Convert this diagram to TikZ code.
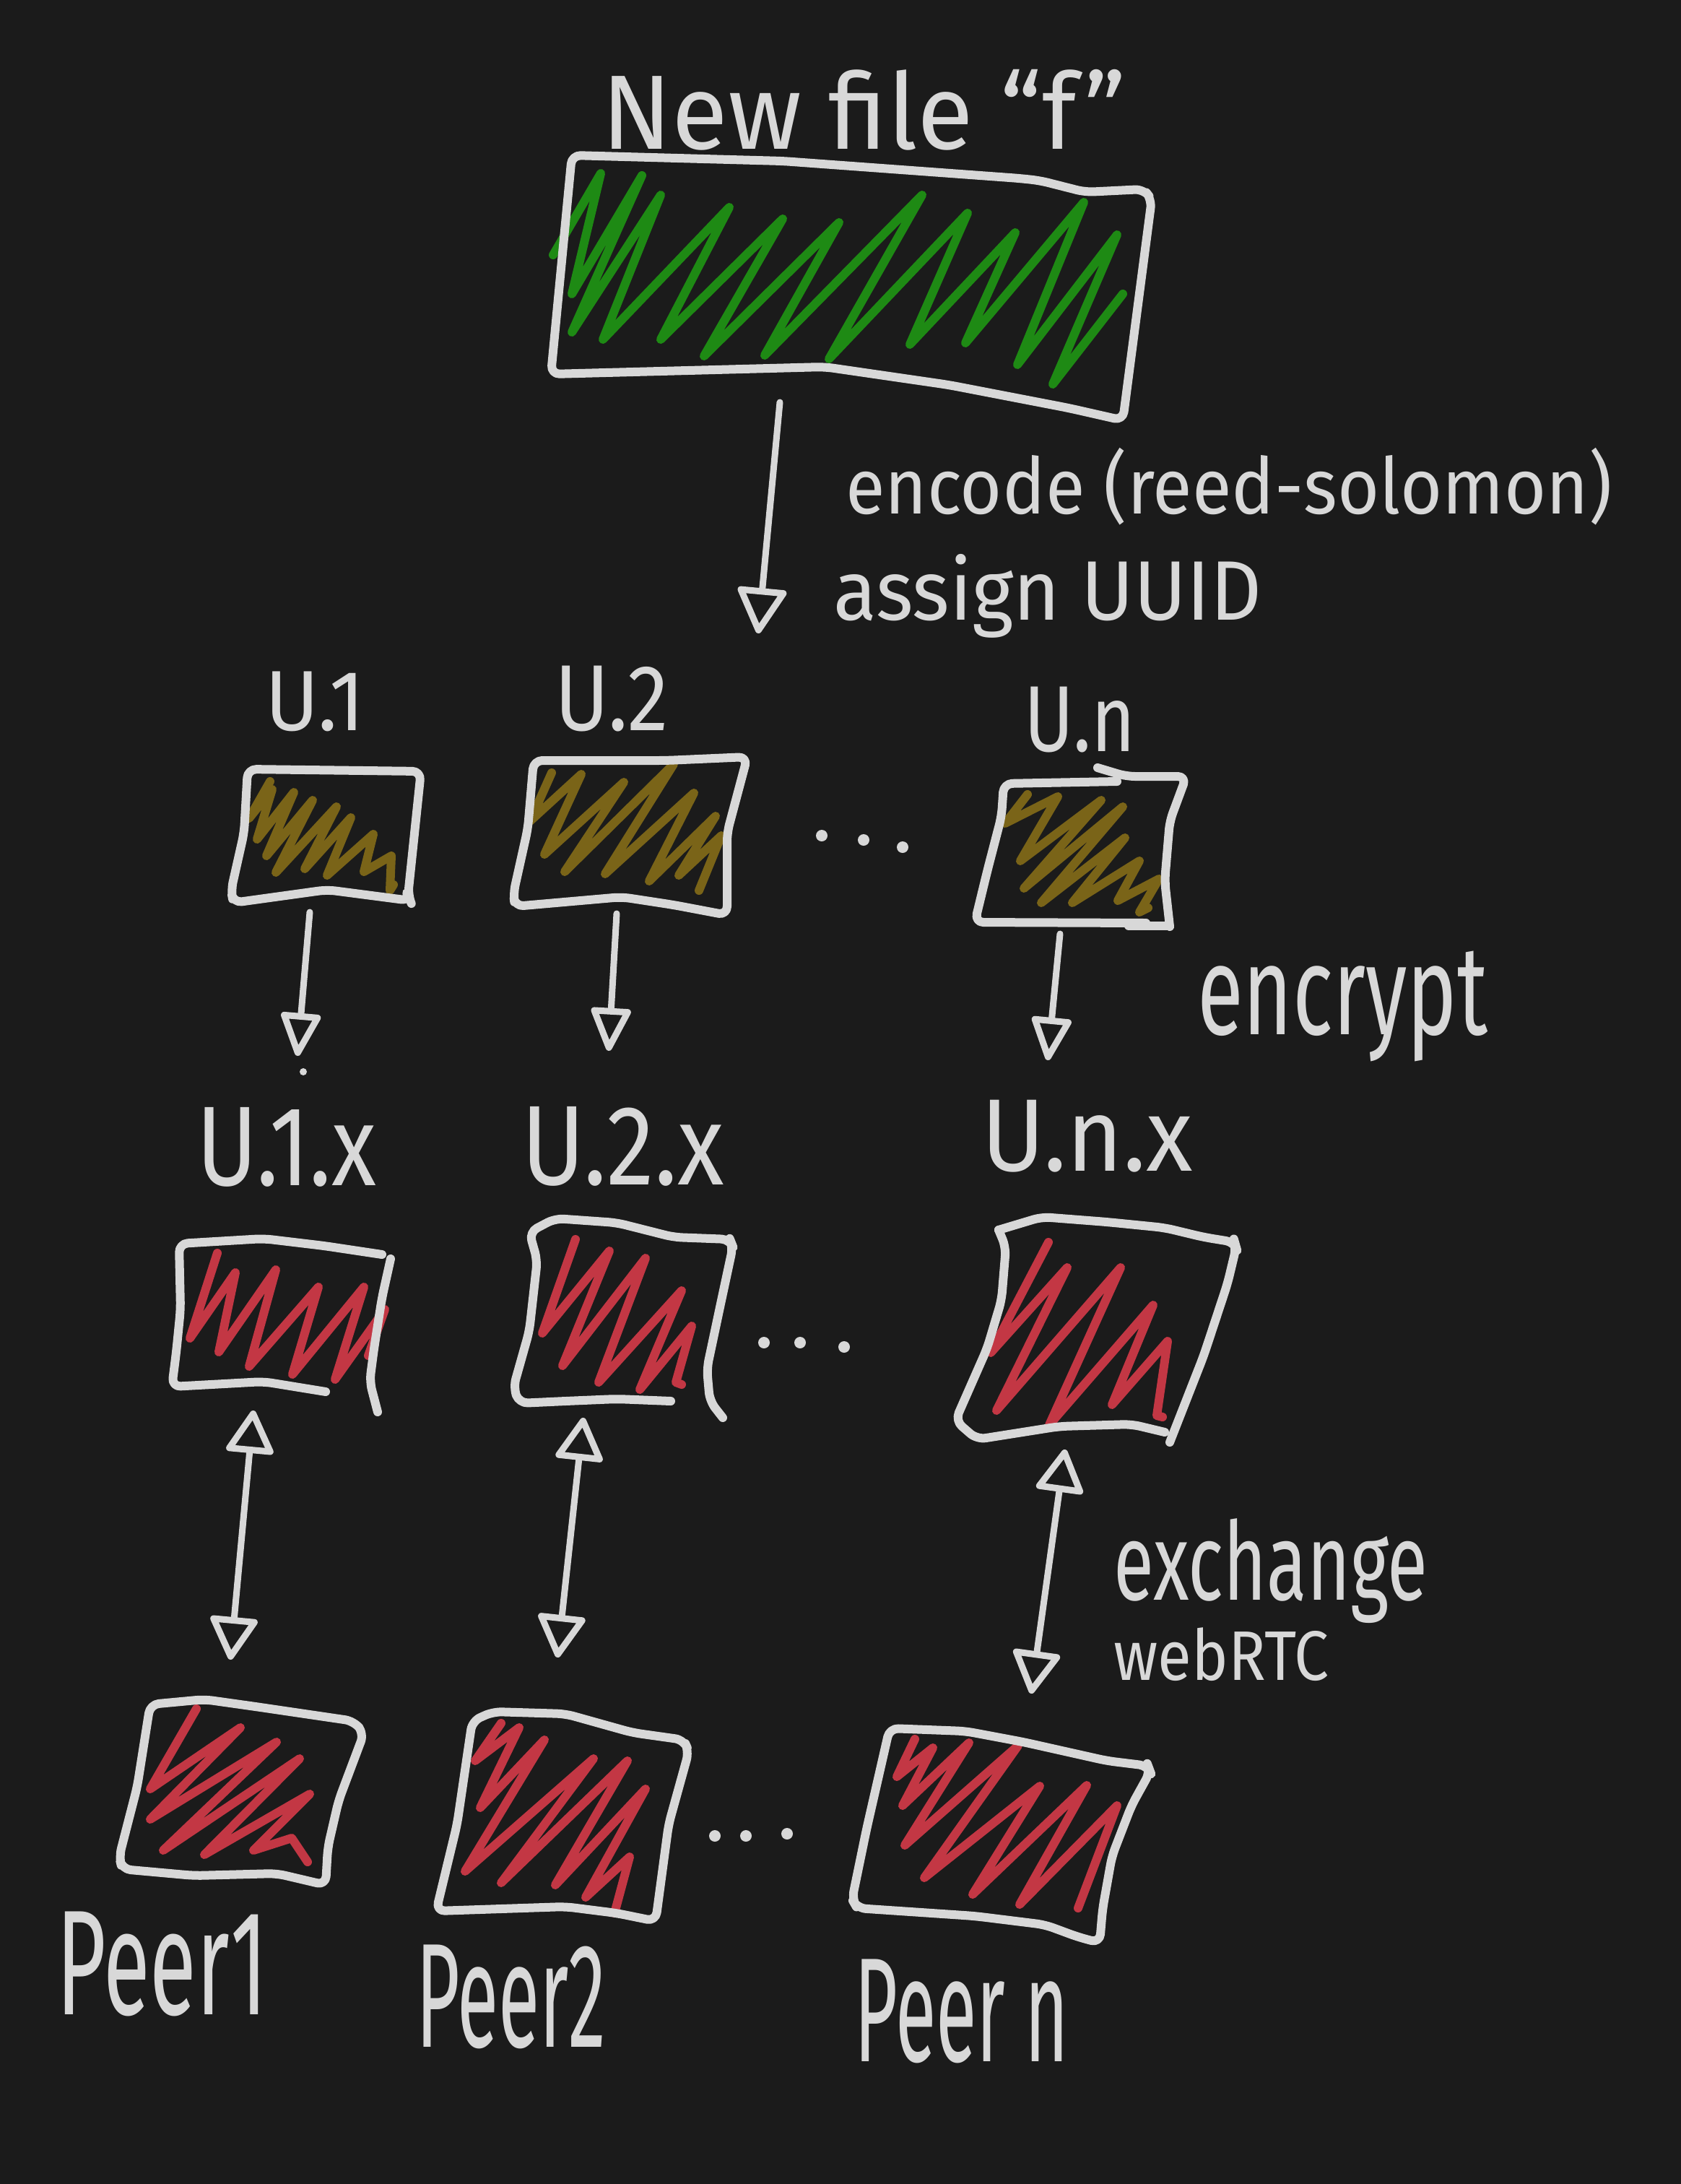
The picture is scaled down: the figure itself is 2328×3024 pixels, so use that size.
\documentclass[tikz,border=0pt]{standalone}
\usepackage{fontspec}
\setmainfont{Fira Sans}
\usepackage{graphicx}
\usetikzlibrary{arrows.meta}
\definecolor{bg}{HTML}{1B1B1B}
\definecolor{ink}{HTML}{D8D8D8}
\definecolor{grn}{HTML}{1E8A14}
\definecolor{gld}{HTML}{7A6418}
\definecolor{rd}{HTML}{C33744}
\newcommand\fitbox[3]{\resizebox*{#1pt}{#2pt}{#3}}
\begin{document}
\begin{tikzpicture}[x=1pt,y=-1pt,
  frame/.style={draw=ink,line width=12pt,line cap=round,line join=round,rounded corners=12pt},
  zz/.style={line width=12pt,line cap=round,line join=round},
  lbl/.style={text=ink,inner sep=0pt,anchor=north west,font=\fontsize{60}{70}\selectfont},
  tipA/.tip={Triangle[open,length=68pt,width=72pt,line join=round]},
  tipB/.tip={Triangle[open,length=66pt,width=58pt,line join=round]},
  tipC/.tip={Triangle[open,length=64pt,width=70pt,line join=round]},
  arr/.style={draw=ink,line width=9pt,line cap=round},
  dotm/.style={fill=ink}
]
\fill[bg] (0,0) rectangle (2328,3024);
\useasboundingbox (0,0) rectangle (2328,3024);

% ---------- top box (new file) ----------
\draw[zz,grn] (766,353) -- (832,240) -- (792,407) -- (889,243) -- (792,460) -- (915,270) -- (835,470)
  -- (1010,287) -- (915,470) -- (1084,303) -- (975,493) -- (1162,308) -- (1059,492) -- (1277,270)
  -- (1148,497) -- (1340,295) -- (1260,477) -- (1406,322) -- (1337,475) -- (1501,280) -- (1409,505)
  -- (1547,325) -- (1458,532) -- (1555,407);
\draw[frame] (792,215) -- (1084,223) -- (1412,247) -- (1440,250) -- (1503,266) -- (1584,262)
  -- (1595,276) -- (1555,582) -- (1480,565) -- (1314,533) -- (1142,508) -- (763,518) -- cycle;
\node[lbl] (tnew) at (833,96) {\fitbox{726}{112}{New file “f”}};

% ---------- encode arrow ----------
\coordinate (a0s) at (1080,557);
\coordinate (a0e) at (1050,877);
\draw[arr,-tipA] (a0s) -- (a0e);
\node[lbl] (tenc) at (1171,620) {\fitbox{1061}{107}{encode (reed-solomon)}};
\node[lbl] (tuid) at (1154,767) {\fitbox{593}{116}{assign UUID}};

% ---------- U row ----------
\node[lbl] (tu1) at (367,930) {\fitbox{138}{83}{U.1}};
\node[lbl] (tu2) at (768,922) {\fitbox{158}{91}{U.2}};
\node[lbl] (tun) at (1418,951) {\fitbox{154}{91}{U.n}};

\draw[zz,gld] (374,1082) -- (345,1133) -- (377,1093) -- (356,1162) -- (407,1097) -- (369,1185)
  -- (433,1108) -- (382,1208) -- (466,1117) -- (422,1203) -- (486,1132) -- (453,1212)
  -- (517,1155) -- (504,1207) -- (542,1185) -- (540,1233) -- (545,1225);
\draw[frame] (343,1065) -- (504,1067) -- (583,1068) -- (565,1240) -- (568,1247) -- (453,1232)
  -- (323,1250) -- (320,1233) -- (338,1153) -- cycle;

\draw[zz,gld] (764,1070) -- (734,1137) -- (805,1072) -- (754,1183) -- (864,1083) -- (782,1207)
  -- (933,1058) -- (838,1210) -- (961,1098) -- (899,1220) -- (991,1130) -- (940,1212)
  -- (999,1157) -- (968,1233);
\draw[frame] (739,1053) -- (922,1053) -- (1035,1048) -- (1007,1153) -- (1007,1267) -- (933,1253)
  -- (861,1242) -- (713,1255) -- (711,1237) -- (731,1147) -- cycle;

\fill[dotm] (1138,1157) circle (8) (1196,1163) circle (8) (1250,1173) circle (8);

\draw[zz,gld] (1423,1100) -- (1392,1140) -- (1465,1103) -- (1413,1192) -- (1525,1108) -- (1418,1230)
  -- (1555,1117) -- (1442,1250) -- (1558,1160) -- (1485,1250) -- (1578,1192) -- (1548,1247)
  -- (1605,1217) -- (1578,1263) -- (1590,1257);
\draw[frame] (1547,1082) -- (1390,1085) -- (1387,1130) -- (1367,1207) -- (1350,1277) -- (1587,1278);
\draw[frame] (1520,1063) -- (1560,1075) -- (1643,1075) -- (1620,1137) -- (1613,1220) -- (1620,1283);
\draw[frame] (1563,1282) -- (1617,1282);

% ---------- encrypt arrows ----------
\coordinate (e1s) at (429,1263); \coordinate (e1e) at (412,1462);
\coordinate (e2s) at (854,1265); \coordinate (e2e) at (843,1455);
\coordinate (e3s) at (1468,1293); \coordinate (e3e) at (1451,1468);
\draw[arr,-tipB] (e1s) -- (e1e);
\draw[arr,-tipB] (e2s) -- (e2e);
\draw[arr,-tipB] (e3s) -- (e3e);
\fill[ink] (420,1484) circle (5);
\node[lbl] (tenr) at (1658,1317) {\fitbox{402}{153}{encrypt}};

% ---------- U.x row ----------
\node[lbl] (tu1x) at (272,1533) {\fitbox{249}{110}{U.1.x}};
\node[lbl] (tu2x) at (722,1532) {\fitbox{281}{110}{U.2.x}};
\node[lbl] (tunx) at (1359,1523) {\fitbox{293}{100}{U.n.x}};

\draw[zz,rd] (301,1735) -- (263,1853) -- (326,1762) -- (303,1872) -- (382,1758) -- (345,1892)
  -- (441,1782) -- (405,1903) -- (504,1782) -- (464,1910) -- (533,1813) -- (510,1877);
\draw[frame] (451,1927) -- (365,1913) -- (238,1920) -- (244,1873) -- (250,1813) -- (248,1722)
  -- (365,1715) -- (449,1725) -- (529,1737);
\draw[frame] (541,1743) -- (529,1797) -- (518,1867) -- (512,1913) -- (523,1955);

\draw[zz,rd] (797,1716) -- (751,1846) -- (844,1732) -- (779,1891) -- (894,1742) -- (829,1914)
  -- (944,1787) -- (886,1924) -- (958,1836) -- (936,1914) -- (944,1917);
\draw[frame] (929,1940) -- (854,1937) -- (783,1940) -- (719,1943) -- (711,1921) -- (733,1843)
  -- (744,1745) -- (733,1706) -- (769,1687) -- (854,1693) -- (933,1713) -- (1011,1716)
  -- (1015,1726) -- (997,1810) -- (979,1895) -- (983,1940) -- (1001,1963);

\fill[dotm] (1058,1859) circle (8) (1108,1859) circle (8) (1169,1865) circle (8);

\draw[zz,rd] (1452,1720) -- (1372,1873) -- (1478,1755) -- (1380,1953) -- (1552,1755) -- (1453,1973)
  -- (1597,1807) -- (1540,1945) -- (1617,1857) -- (1602,1960) -- (1610,1962);
\draw[frame] (1383,1703) -- (1443,1685) -- (1533,1692) -- (1613,1700) -- (1667,1713) -- (1710,1720)
  -- (1712,1727) -- (1700,1777) -- (1667,1877) -- (1620,1997);
\draw[frame] (1613,1983) -- (1567,1972) -- (1467,1975) -- (1353,1993) -- (1323,1967) -- (1367,1867)
  -- (1387,1800) -- (1393,1727) -- (1383,1703);

% ---------- exchange arrows ----------
\coordinate (x1s) at (351,1953); \coordinate (x1e) at (319,2298);
\coordinate (x2s) at (808,1963); \coordinate (x2e) at (772,2295);
\coordinate (x3s) at (1475,2007); \coordinate (x3e) at (1428,2345);
\draw[arr,tipC-tipC] (x1s) -- (x1e);
\draw[arr,tipC-tipC] (x2s) -- (x2e);
\draw[arr,tipC-tipC] (x3s) -- (x3e);
\node[lbl] (texc) at (1542,2102) {\fitbox{435}{145}{exchange}};
\node[lbl] (twrt) at (1542,2253) {\fitbox{298}{74}{webRTC}};

% ---------- peers ----------
\draw[zz,rd] (272,2366) -- (208,2477) -- (333,2392) -- (208,2519) -- (383,2412) -- (226,2562)
  -- (415,2435) -- (283,2568) -- (429,2484) -- (351,2562) -- (404,2545) -- (426,2578);
\draw[frame] (208,2360) -- (283,2353) -- (354,2363) -- (490,2383) -- (504,2400) -- (469,2493)
  -- (454,2558) -- (451,2610) -- (383,2594) -- (269,2597) -- (169,2588) -- (165,2571)
  -- (190,2474) -- cycle;

\draw[zz,rd] (694,2386) -- (658,2438) -- (719,2392) -- (665,2503) -- (754,2409) -- (644,2591)
  -- (822,2435) -- (694,2607) -- (869,2438) -- (769,2610) -- (894,2477) -- (811,2627)
  -- (872,2571) -- (851,2649);
\draw[frame] (654,2383) -- (683,2370) -- (783,2373) -- (876,2399) -- (947,2409) -- (954,2425)
  -- (926,2526) -- (908,2660) -- (854,2649) -- (783,2640) -- (604,2646) -- (633,2526) -- cycle;

\fill[dotm] (990,2542) circle (8) (1033,2542) circle (8) (1090,2539) circle (8);

\draw[zz,rd] (1267,2408) -- (1242,2460) -- (1292,2420) -- (1250,2500) -- (1342,2413) -- (1253,2555)
  -- (1410,2417) -- (1280,2600) -- (1440,2473) -- (1347,2623) -- (1505,2472) -- (1412,2637)
  -- (1547,2500) -- (1493,2642);
\draw[frame] (1232,2393) -- (1337,2397) -- (1417,2412) -- (1533,2438) -- (1590,2445) -- (1593,2453)
  -- (1567,2500) -- (1540,2570) -- (1527,2643) -- (1523,2690) -- (1493,2682) -- (1447,2665)
  -- (1350,2653) -- (1187,2642) -- (1180,2630) -- (1200,2533) -- cycle;

\node[lbl] (tp1) at (78,2647) {\fitbox{292}{145}{Peer1}};
\node[lbl] (tp2) at (576,2693) {\fitbox{263}{144}{Peer2}};
\node[lbl] (tpn) at (1183,2713) {\fitbox{297}{144}{Peer n}};
\end{tikzpicture}
\end{document}
